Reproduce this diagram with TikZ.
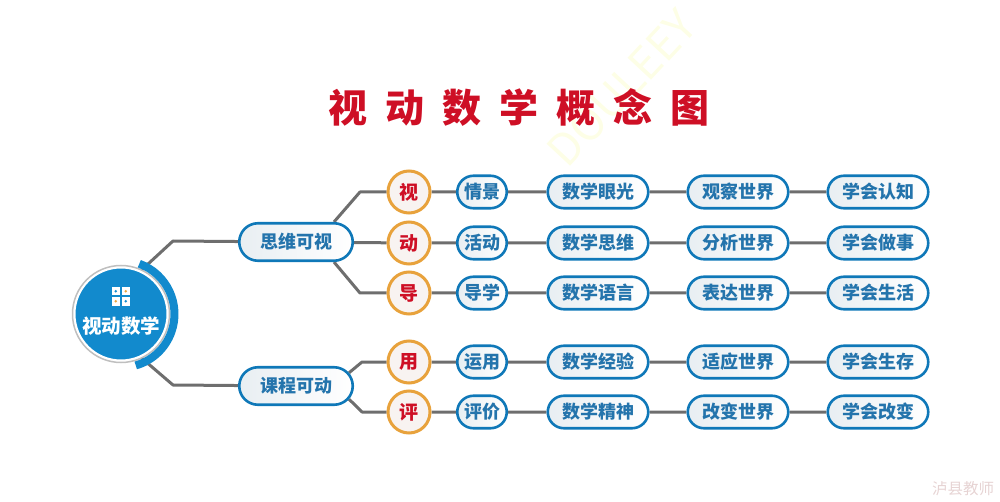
\documentclass[tikz,border=0pt]{standalone}
\usepackage{fontspec}
\setmainfont{Noto Sans CJK SC}
\newfontfamily\titlefont[LetterSpace=46]{Noto Sans CJK SC}
\usetikzlibrary{shapes.misc}
\usetikzlibrary{backgrounds}
\definecolor{nodeblue}{HTML}{0F78B8}
\definecolor{textblue}{HTML}{2474AC}
\definecolor{rootblue}{HTML}{128ACD}
\definecolor{linegray}{HTML}{6E6E6E}
\definecolor{ringorange}{HTML}{E8A23C}
\definecolor{titlered}{HTML}{CE0F25}
\definecolor{markyellow}{HTML}{FDFEE6}
\definecolor{markpink}{HTML}{E6D3D3}
\definecolor{pillpale}{HTML}{E8EEF2}
\definecolor{ringpale}{HTML}{F8F3F1}
\tikzset{
  pill/.style={rounded rectangle, draw=nodeblue, line width=2.6pt, left color=pillpale, right color=white,
    minimum height=32.5pt, inner sep=0pt, text=textblue, font=\fontsize{18}{18}\selectfont\bfseries},
  widepill/.style={pill, minimum width=100.5pt},
  shortpill/.style={pill, minimum width=49.5pt},
  bigpill/.style={pill, minimum width=113.5pt, minimum height=37.5pt},
  ringnode/.style={circle, draw=ringorange, line width=3pt, fill=ringpale, minimum size=42pt, inner sep=0pt,
    text=titlered, font=\fontsize{19}{19}\selectfont\bfseries},
  link/.style={draw=linegray, line width=3pt, line join=round}
}
\begin{document}
\begin{tikzpicture}[x=1pt, y=-1pt]
  \useasboundingbox (0,0) rectangle (1000,502);
  % watermarks
  \node (markword) [rotate=47, text=markyellow, font=\fontsize{44}{44}\selectfont] at (622,88) {DOULEEY};
  \node (marksign) [text=markpink, font=\fontsize{15.5}{16}\selectfont] at (963,489) {泸县教师};
  % title
  \node (title) [text=titlered, font=\fontsize{39}{39}\titlefont\bfseries] at (519,107) {视动数学概念图};
  % root
  \node (root) [circle, fill=rootblue, draw=white, line width=3pt, minimum size=94pt, inner sep=0pt] at (121,314) {};
  \draw [black!25, line width=1.5pt] (root) circle (48.5pt);
  \draw [rootblue, line width=8pt] (121,314) ++(70:53.5pt) arc (70:-74:53.5pt);
  \node (rootname) [text=white, font=\fontsize{19.5}{20}\selectfont\bfseries] at (121,326) {视动数学};
  \foreach \px/\py/\dotcol in {111.5/287/rootblue, 121.5/287/ringorange, 111.5/297/ringorange, 121.5/297/rootblue} {
    \fill [white] (\px,\py) rectangle ++(8.5,8.5);
    \fill [\dotcol] (\px+4.2,\py+4.2) circle (1.4pt);
  }
  % first level
  \node (think) [bigpill] at (296,242) {思维可视};
  \node (course) [bigpill] at (296,386) {课程可动};
  % rows
  \foreach \row/\ypos/\ch/\one/\two/\three/\four in {
    a/192/视/情景/数学眼光/观察世界/学会认知,
    b/243/动/活动/数学思维/分析世界/学会做事,
    c/293/导/导学/数学语言/表达世界/学会生活,
    d/362/用/运用/数学经验/适应世界/学会生存,
    e/412/评/评价/数学精神/改变世界/学会改变} {
    \node (ring\row) [ringnode] at (409,\ypos) {\ch};
    \node (short\row) [shortpill] at (482,\ypos) {\one};
    \node (eye\row) [widepill] at (598,\ypos) {\two};
    \node (world\row) [widepill] at (738,\ypos) {\three};
    \node (learn\row) [widepill] at (878,\ypos) {\four};
    \begin{pgfonlayer}{background}
      \draw [link] (ring\row) -- (short\row) -- (eye\row) -- (world\row) -- (learn\row);
    \end{pgfonlayer}
  }
  \begin{pgfonlayer}{background}
    \draw [link] (root.65) -- (173,241) -- (think);
    \draw [link] (root.-65) -- (173,385) -- (course);
    \draw [link] (think.north east) -- (360,192) -- (ringa);
    \draw [link] (think) -- (ringb);
    \draw [link] (think.south east) -- (360,293) -- (ringc);
    \draw [link] (course.14) -- (362,362) -- (ringd);
    \draw [link] (course.-14) -- (362,412) -- (ringe);
  \end{pgfonlayer}
\end{tikzpicture}
\end{document}
